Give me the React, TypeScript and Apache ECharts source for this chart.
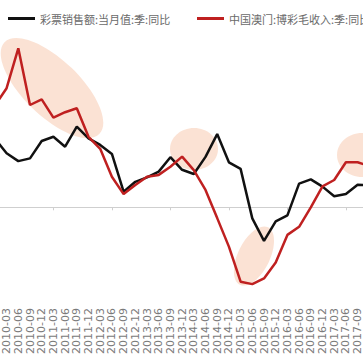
import React, { useEffect, useRef } from "react";
import * as echarts from "echarts";

const categories = [
  "2009-12",
  "2010-03", "2010-06", "2010-09", "2010-12",
  "2011-03", "2011-06", "2011-09", "2011-12",
  "2012-03", "2012-06", "2012-09", "2012-12",
  "2013-03", "2013-06", "2013-09", "2013-12",
  "2014-03", "2014-06", "2014-09", "2014-12",
  "2015-03", "2015-06", "2015-09", "2015-12",
  "2016-03", "2016-06", "2016-09", "2016-12",
  "2017-03", "2017-06", "2017-09",
  "2017-12",
];

const lotteryName = "彩票销售额:当月值:季:同比";
const macauName = "中国澳门:博彩毛收入:季:同比";

const lotteryYoY = [
  22.9,
  18, 15.4, 16.3, 22.1, 23.5, 20.2, 26.9, 23,
  20.8, 17.8, 5.2, 8.5, 10, 11.9, 16.7, 12.5,
  11.1, 16.8, 24.4, 15, 12.8, -3.7, -11.2, -4.7,
  -2.7, 7.9, 9.3, 6.9, 3.7, 4.4, 7.5,
  7.4,
];

const macauYoY = [
  33.9,
  39.7, 53, 34.1, 36, 29.9, 31.7, 33, 23.5,
  19.5, 10.2, 4.4, 7.4, 10.2, 10.8, 13.5, 16.9,
  12.4, 5.8, -3.6, -13.1, -24.8, -25.6, -23.7, -18.4,
  -9.2, -6.5, 0, 7, 9.1, 15, 15,
  13.8,
];

const deg = Math.PI / 180;

export default function App() {
  const ref = useRef<HTMLDivElement>(null);
  useEffect(() => {
    if (!ref.current) return;
    const chart = echarts.init(ref.current, null, { renderer: "svg" });
    const hl = "rgba(249, 216, 198, 0.75)";
    const lastIdx = categories.length - 1;
    chart.setOption({
      animation: false,
      backgroundColor: "#ffffff",
      legend: [
        {
          data: [lotteryName],
          left: 3,
          top: 8,
          icon: "rect",
          itemWidth: 27,
          itemHeight: 3,
          itemGap: 2,
          textStyle: { fontSize: 11, color: "#6a6a6a", fontFamily: "Noto Sans CJK SC" },
        },
        {
          data: [macauName],
          left: 192,
          top: 8,
          icon: "rect",
          itemWidth: 27,
          itemHeight: 3,
          textStyle: { fontSize: 11, color: "#6a6a6a", fontFamily: "Noto Sans CJK SC" },
        },
      ],
      grid: {
        left: -5.1,
        right: -6.3,
        top: 27.3,
        bottom: 65.7,
        containLabel: false,
        outerBoundsMode: "none",
      },
      xAxis: [
        {
          type: "category",
          data: categories,
          boundaryGap: false,
          position: "bottom",
          axisLine: { show: false, onZero: false },
          axisTick: { show: false },
          axisLabel: {
            interval: (index: number) => index > 0 && index < lastIdx,
            rotate: 90,
            margin: 10.7,
            fontSize: 11,
            color: "#7a7a7a",
            fontFamily: "DejaVu Sans",
          },
        },
        {
          type: "category",
          data: categories,
          boundaryGap: false,
          position: "top",
          axisLine: { show: true, onZero: true, lineStyle: { color: "#cfcfcf", width: 1 } },
          axisTick: { show: true, inside: true, length: 3, lineStyle: { color: "#cfcfcf" } },
          axisLabel: { show: false },
        },
      ],
      yAxis: {
        type: "value",
        min: -30,
        max: 60,
        show: false,
        splitLine: { show: false },
      },
      graphic: [
        {
          type: "ellipse",
          z: 0,
          x: 52,
          y: 88,
          rotation: -44 * deg,
          shape: { cx: 0, cy: 0, rx: 66, ry: 28 },
          style: { fill: hl },
        },
        {
          type: "ellipse",
          z: 0,
          x: 194,
          y: 149,
          rotation: 0,
          shape: { cx: 0, cy: 0, rx: 24, ry: 21 },
          style: { fill: hl },
        },
        {
          type: "ellipse",
          z: 0,
          x: 254,
          y: 256,
          rotation: 64 * deg,
          shape: { cx: 0, cy: 0, rx: 32, ry: 16 },
          style: { fill: hl },
        },
        {
          type: "ellipse",
          z: 0,
          x: 362,
          y: 155,
          rotation: 0,
          shape: { cx: 0, cy: 0, rx: 25, ry: 22 },
          style: { fill: hl },
        },
      ],
      series: [
        {
          name: lotteryName,
          type: "line",
          data: lotteryYoY,
          xAxisIndex: 0,
          symbol: "none",
          clip: false,
          z: 3,
          itemStyle: { color: "#111111" },
          lineStyle: { color: "#111111", width: 2.5 },
        },
        {
          name: macauName,
          type: "line",
          data: macauYoY,
          xAxisIndex: 0,
          symbol: "none",
          clip: false,
          z: 4,
          itemStyle: { color: "#bf2020" },
          lineStyle: { color: "#bf2020", width: 2.5 },
        },
      ],
    });
    return () => chart.dispose();
  }, []);
  return (
    <div
      ref={ref}
      style={{ position: "fixed", left: 0, top: 0, width: 363, height: 363, background: "#fff" }}
    />
  );
}
